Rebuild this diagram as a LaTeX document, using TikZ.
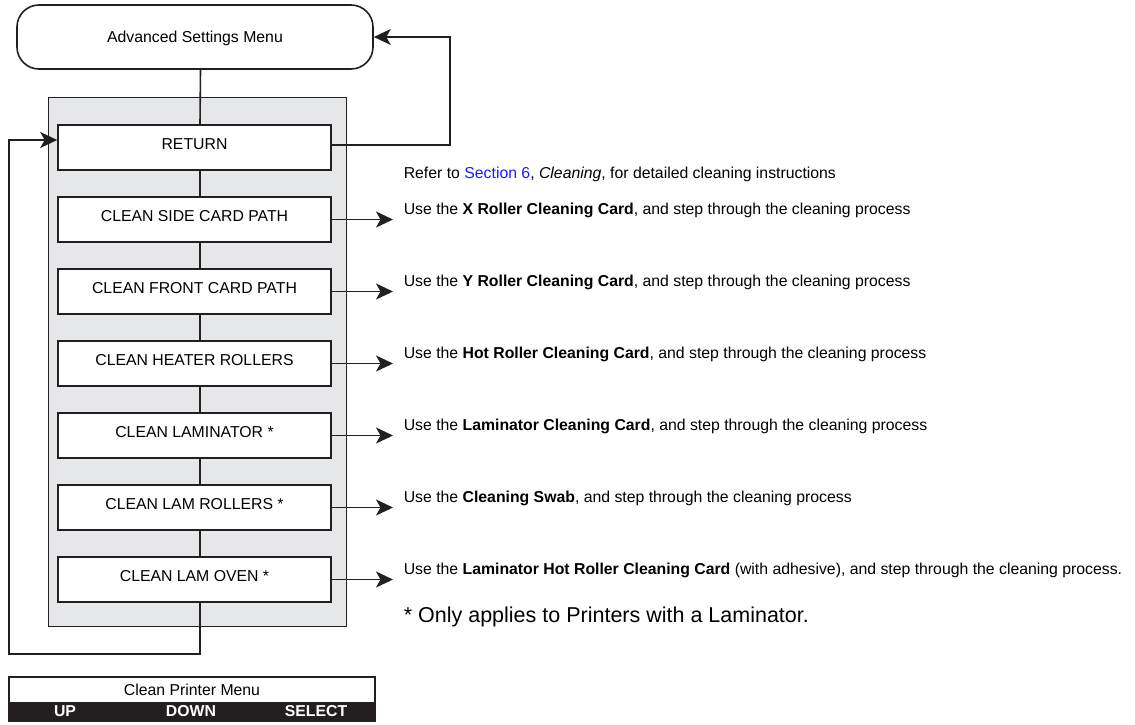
\documentclass[tikz,border=0pt]{standalone}
\usepackage{fontspec}
\setmainfont{Liberation Sans}
\usepackage{tikz}
\usetikzlibrary{positioning,arrows.meta,fit,backgrounds}
\definecolor{ink}{HTML}{231F20}
\definecolor{panelgray}{HTML}{E6E7E8}
\definecolor{linkblue}{HTML}{1A1AFF}
\newcommand{\keyfont}{\fontsize{15.8}{19}\selectfont\bfseries\color{white}}

\begin{document}
\begin{tikzpicture}[
  x=1pt, y=-1pt,
  font=\fontsize{15.8}{19}\selectfont,
  line width=1.6pt,
  item/.style={draw=ink, fill=white, minimum width=273pt, minimum height=45pt,
               inner sep=0pt, text height=11.5pt, text depth=8.2pt},
  head/.style={draw=ink, fill=white, rounded corners=22pt, minimum width=356pt,
               minimum height=64pt, inner sep=0pt, text height=11.5pt, text depth=0pt},
  panel/.style={draw=ink, fill=panelgray, inner sep=0pt},
  note/.style={anchor=west, inner sep=0pt, text height=11.5pt, text depth=0pt},
  key/.style={inner sep=0pt, text height=11.5pt, text depth=0pt, font=\keyfont},
  arr/.style={-{Stealth[length=17pt, width=16pt, inset=4.5pt]}, draw=ink},
  link/.style={draw=ink},
  node distance=25.4pt]
\useasboundingbox (0,0) rectangle (1135,725);

% menu and its items
\node[head] (adv) at (195,37) {Advanced Settings Menu};
\node[item] (ret) at (194.5,147.5) {RETURN};
\node[item, below=of ret] (side) {CLEAN SIDE CARD PATH};
\node[item, below=of side] (front) {CLEAN FRONT CARD PATH};
\node[item, below=of front] (heat) {CLEAN HEATER ROLLERS};
\node[item, below=of heat] (lam) {CLEAN LAMINATOR *};
\node[item, below=of lam] (lamrol) {CLEAN LAM ROLLERS *};
\node[item, below=of lamrol] (oven) {CLEAN LAM OVEN *};
\begin{scope}[on background layer]
\node[panel, fit={([xshift=-9pt,yshift=27pt]ret.north west)
                  ([xshift=14pt,yshift=-23pt]oven.south east)}] (box) {};
\end{scope}
\foreach \a/\b in {adv/ret, ret/side, side/front, front/heat, heat/lam, lam/lamrol, lamrol/oven}
  \draw[link] ([xshift=5.5pt]\a.south) -- ([xshift=5.5pt]\b.north);

% loops back
\coordinate (rc) at (450,90);
\coordinate (lc) at (9,654);
\draw[arr] ([yshift=2.5pt]ret.east) -| (rc) |- (adv.east);
\draw[arr] ([xshift=5.5pt]oven.south) |- (lc) |- ([yshift=7.5pt]ret.west);

% instructions
\node[note] (refer) at (403,172.5)
  {Refer to \textcolor{linkblue}{Section 6}, \textit{Cleaning}, for detailed cleaning instructions};
\node[note] (tside) at (403,208.5)
  {Use the \textbf{X Roller Cleaning Card}, and step through the cleaning process};
\node[note] (tfront) at (403,280.5)
  {Use the \textbf{Y Roller Cleaning Card}, and step through the cleaning process};
\node[note] (theat) at (403,352.5)
  {Use the \textbf{Hot Roller Cleaning Card}, and step through the cleaning process};
\node[note] (tlam) at (403,424.5)
  {Use the \textbf{Laminator Cleaning Card}, and step through the cleaning process};
\node[note] (tlamrol) at (403,496.5)
  {Use the \textbf{Cleaning Swab}, and step through the cleaning process};
\node[note] (toven) at (403,568.5)
  {Use the \textbf{Laminator Hot Roller Cleaning Card} (with adhesive), and step through the cleaning process.};
\node[note, text height=15.4pt, font=\fontsize{21.5}{25}\selectfont] (only) at (403,615)
  {* Only applies to Printers with a Laminator.};
\foreach \b/\t in {side/tside, front/tfront, heat/theat, lam/tlam, lamrol/tlamrol, oven/toven}
  \draw[arr, shorten >=10pt] (\b.east) -- (\b.east -| \t.west);

% panel keys
\node[draw=ink, fill=white, minimum width=366pt, minimum height=26pt, inner sep=0pt,
      text height=11.5pt, text depth=0pt] (menu) at (192,690) {Clean Printer Menu};
\node[fill=ink, draw=ink, minimum width=366pt, minimum height=17pt, inner sep=0pt,
      below=0pt of menu] (bar) {};
\node[key] (up) at (65,710.7) {UP};
\node[key] (down) at (191,710.7) {DOWN};
\node[key] (sel) at (316,710.7) {SELECT};
\end{tikzpicture}
\end{document}
